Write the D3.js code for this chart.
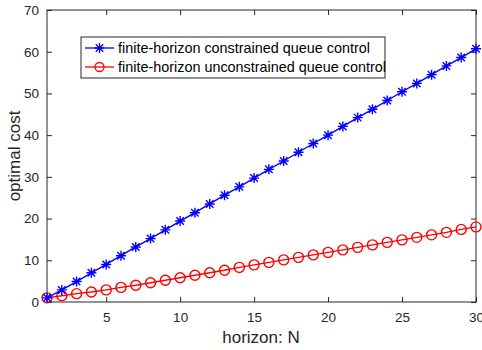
<!DOCTYPE html>
<html><head><meta charset="utf-8">
<script src="https://cdn.jsdelivr.net/npm/d3@7"></script>
<style>body{margin:0;background:#fff}svg{display:block;font-family:"Liberation Sans",Arial,sans-serif}</style>
</head><body><svg id="c" width="482" height="350"></svg>
<script>
const horizons = d3.range(1, 31);
const constrainedCost = [1.0, 2.9, 4.9, 7.0, 9.0, 11.1, 13.2, 15.2, 17.3, 19.4, 21.4, 23.5, 25.6, 27.6, 29.7, 31.8, 33.8, 35.9, 38.0, 40.0, 42.1, 44.2, 46.2, 48.3, 50.4, 52.4, 54.5, 56.6, 58.6, 60.7];
const unconstrainedCost = [1.0, 1.5, 2.0, 2.4, 2.9, 3.5, 4.0, 4.6, 5.2, 5.8, 6.4, 7.0, 7.6, 8.3, 8.9, 9.5, 10.1, 10.7, 11.3, 11.9, 12.5, 13.1, 13.7, 14.3, 14.9, 15.5, 16.1, 16.7, 17.4, 18.0];
const xTicks = [5, 10, 15, 20, 25, 30];
const yTicks = [0, 10, 20, 30, 40, 50, 60, 70];
const seriesNames = ["finite-horizon constrained queue control", "finite-horizon unconstrained queue control"];
const seriesColors = ["#0000ff", "#ff0000"];

const svg = d3.select("#c");
const L = 47, R = 476, T = 10, B = 302;
const x = d3.scaleLinear().domain([1, 30]).range([L, R]);
const y = d3.scaleLinear().domain([0, 70]).range([B, T]);
const axCol = "#262626";

function styleAxis(g) {
  g.select(".domain").remove();
  g.selectAll(".tick line").attr("stroke", axCol);
  g.selectAll(".tick text").attr("fill", axCol).style("font-size", "13.5px").style("font-family", '"Liberation Sans",Arial,sans-serif');
}
svg.append("g").attr("transform", `translate(0,${B})`)
  .call(d3.axisBottom(x).tickValues(xTicks).tickSizeInner(-5).tickSizeOuter(0).tickPadding(10))
  .call(styleAxis);
svg.append("g").attr("transform", `translate(0,${T})`)
  .call(d3.axisTop(x).tickValues(xTicks).tickSizeInner(-5).tickSizeOuter(0).tickFormat(""))
  .call(styleAxis);
svg.append("g").attr("transform", `translate(${L},0)`)
  .call(d3.axisLeft(y).tickValues(yTicks).tickSizeInner(-5).tickSizeOuter(0).tickPadding(8))
  .call(styleAxis);
svg.append("g").attr("transform", `translate(${R},0)`)
  .call(d3.axisRight(y).tickValues(yTicks).tickSizeInner(-5).tickSizeOuter(0).tickFormat(""))
  .call(styleAxis);
svg.append("rect").attr("x", L).attr("y", T).attr("width", R - L).attr("height", B - T)
  .attr("fill", "none").attr("stroke", axCol).attr("stroke-width", 1);

const line = d3.line().x((d, i) => x(horizons[i])).y(d => y(d));
const star = d3.symbol().type({draw(ctx, size){ const r = Math.sqrt(size)/2;
  ctx.moveTo(-r,0);ctx.lineTo(r,0);ctx.moveTo(0,-r);ctx.lineTo(0,r);
  const k=r*0.75; ctx.moveTo(-k,-k);ctx.lineTo(k,k);ctx.moveTo(-k,k);ctx.lineTo(k,-k);}}).size(100);

function drawSeries(data, color, kind) {
  const g = svg.append("g");
  g.append("path").datum(data).attr("d", line).attr("fill", "none").attr("stroke", color).attr("stroke-width", 1.4);
  g.selectAll("m").data(data).enter().append(kind === "star" ? "path" : "circle")
    .each(function(d, i) {
      const s = d3.select(this);
      if (kind === "star") s.attr("d", star).attr("transform", `translate(${x(horizons[i])},${y(d)})`).attr("stroke", color).attr("stroke-width", 1.4).attr("fill", "none");
      else s.attr("cx", x(horizons[i])).attr("cy", y(d)).attr("r", 5).attr("stroke", color).attr("stroke-width", 1.4).attr("fill", "none");
    });
}
drawSeries(unconstrainedCost, seriesColors[1], "circle");
drawSeries(constrainedCost, seriesColors[0], "star");

svg.append("text").attr("x", 261).attr("y", 343).attr("text-anchor", "middle")
  .attr("fill", axCol).style("font-size", "17px").text("horizon: N");
svg.append("text").attr("transform", `translate(20,${(T + B) / 2}) rotate(-90)`).attr("text-anchor", "middle")
  .attr("fill", axCol).style("font-size", "17px").text("optimal cost");

// legend
const lg = svg.append("g");
lg.append("rect").attr("x", 81).attr("y", 37).attr("width", 304).attr("height", 41)
  .attr("fill", "#fff").attr("stroke", axCol).attr("stroke-width", 1);
seriesNames.forEach((name, i) => {
  const yy = 48 + i * 19;
  lg.append("line").attr("x1", 85).attr("x2", 114).attr("y1", yy).attr("y2", yy).attr("stroke", seriesColors[i]).attr("stroke-width", 1.3);
  if (i === 0) lg.append("path").attr("d", star).attr("transform", `translate(99.5,${yy})`).attr("stroke", seriesColors[i]).attr("stroke-width", 1.3).attr("fill", "none");
  else lg.append("circle").attr("cx", 99.5).attr("cy", yy).attr("r", 4.5).attr("stroke", seriesColors[i]).attr("stroke-width", 1.3).attr("fill", "none");
  lg.append("text").attr("x", 118).attr("y", yy + 5).attr("fill", "#000").style("font-size", "14.4px").text(name);
});
</script></body></html>
